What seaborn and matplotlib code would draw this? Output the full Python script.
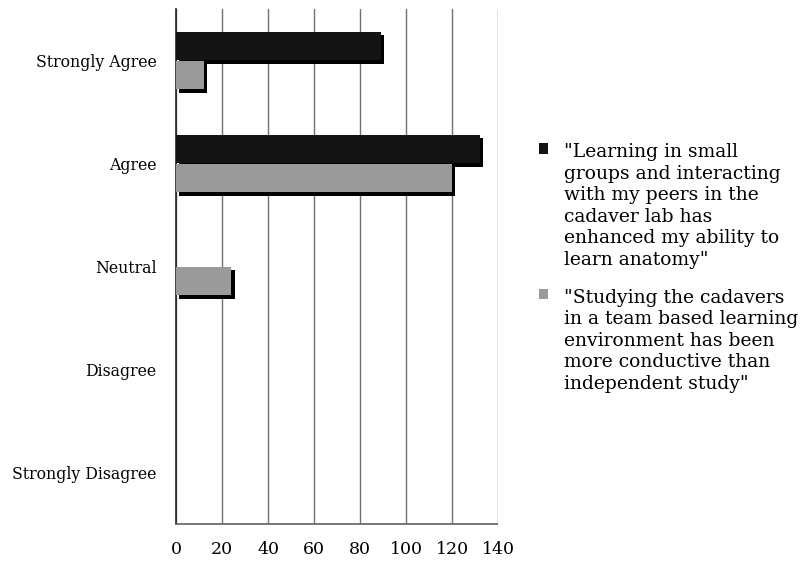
import matplotlib
matplotlib.use("Agg")
import matplotlib.pyplot as plt
import matplotlib.patheffects as pe
import seaborn as sns
import pandas as pd
import numpy as np

categories = ["Strongly Agree", "Agree", "Neutral", "Disagree", "Strongly Disagree"]
series_names = [
    '"Learning in small\ngroups and interacting\nwith my peers in the\ncadaver lab has\nenhanced my ability to\nlearn anatomy"',
    '"Studying the cadavers\nin a team based learning\nenvironment has been\nmore conductive than\nindependent study"',
]
small_groups = [89, 132, 0, 0, 0]
team_based = [12, 120, 24, 0, 0]
x_ticks = [0, 20, 40, 60, 80, 100, 120, 140]

df = pd.DataFrame({
    "category": categories * 2,
    "count": small_groups + team_based,
    "series": [series_names[0]] * len(categories) + [series_names[1]] * len(categories),
})

sns.set_theme(style="white")
plt.rcParams["font.family"] = ["DejaVu Serif"]
plt.rcParams["text.color"] = "black"
plt.rcParams["xtick.color"] = "black"
plt.rcParams["ytick.color"] = "black"

fig = plt.figure(figsize=(8.07, 5.66), dpi=100)
ax = fig.add_axes([176 / 807, 1 - 524 / 566, (498 - 176) / 807, (524 - 9) / 566])

palette = {series_names[0]: "#141414", series_names[1]: "#9a9a9a"}
sns.barplot(data=df, y="category", x="count", hue="series", order=categories,
            hue_order=series_names, palette=palette, width=0.56, orient="h",
            saturation=1, ax=ax, legend=True, zorder=3)

for p in ax.patches:
    p.set_edgecolor("none")
    p.set_path_effects([pe.SimplePatchShadow(offset=(2.5, -2.5), shadow_rgbFace="black", alpha=1.0), pe.Normal()])

ax.set_xlim(0, 140)
ax.set_ylim(4.5, -0.5)
ax.set_xticks(x_ticks)
ax.set_xticklabels([str(t) for t in x_ticks], fontsize=12.5)
ax.set_yticks(range(len(categories)))
ax.set_yticklabels(categories, fontsize=11.3)
ax.set_yticks(np.arange(-0.5, len(categories), 1.0), minor=True)
ax.tick_params(axis="y", which="major", length=0, pad=14, labelcolor="black")
ax.tick_params(axis="y", which="minor", length=4, direction="out", color="#555555")
ax.tick_params(axis="x", which="major", length=4, direction="inout", color="#555555", pad=10, labelcolor="black")
ax.set_xlabel("")
ax.set_ylabel("")

ax.grid(axis="x", color="#707070", linewidth=1.0, zorder=0)
ax.set_axisbelow(True)
for s in ["top", "right"]:
    ax.spines[s].set_visible(False)
ax.spines["left"].set_color("#222222")
ax.spines["left"].set_linewidth(1.2)
ax.spines["bottom"].set_color("#666666")
ax.spines["bottom"].set_linestyle((0, (2, 1)))

handles, labels = ax.get_legend_handles_labels()
ax.get_legend().remove()
for h in handles:
    h.set_path_effects([])
leg = fig.legend(handles, labels, loc="upper left", bbox_to_anchor=(531 / 807, 1 - 136 / 566),
                 frameon=False, fontsize=13.5, handlelength=0.5, handleheight=0.5,
                 handletextpad=0.85, labelspacing=1.05, borderaxespad=0)
for t in leg.get_texts():
    t.set_linespacing(1.25)
for col in leg._legend_handle_box.get_children():
    for row in col.get_children():
        row.align = "top"

fig.savefig("out.png", dpi=100)
